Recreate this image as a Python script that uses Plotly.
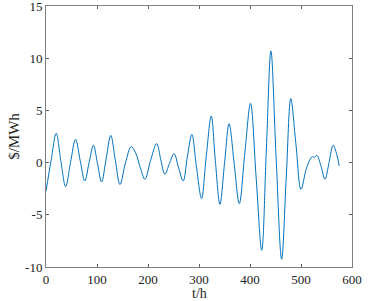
import plotly.graph_objects as go

t_h = [0, 10, 20, 29, 38.5, 48, 58, 67, 76, 84.5, 93, 101, 109, 118, 127, 136, 145, 156,
       167, 176, 185, 194, 205, 217, 225, 233, 242, 251, 260, 269, 277, 286, 295, 305,
       314, 324, 332, 341, 350, 359, 369, 379, 390, 401, 412, 423, 432, 441, 451, 462,
       471, 480, 490, 500, 511, 522, 526, 531, 539, 547, 555, 563, 570, 575]
price = [-2.75, 0.2, 2.8, 0.2, -2.3, 0.0, 2.23, 0.2, -1.76, 0.0, 1.66, -0.1, -1.86, 0.4,
         2.6, 0.2, -2.1, 0.0, 1.53, 0.9, -0.5, -1.6, 0.2, 1.82, 0.3, -1.12, -0.1, 0.86,
         -0.5, -1.76, 0.5, 2.7, -0.4, -3.45, 0.5, 4.46, 0.2, -4.0, -0.1, 3.73, -0.1, -3.93,
         1.0, 5.68, -1.4, -8.4, 1.2, 10.7, 0.7, -9.26, -1.5, 6.13, 1.8, -2.56, -0.5, 0.57,
         0.5, 0.7, -0.3, -1.6, 0.0, 1.66, 0.8, -0.33]

x_ticks = [0, 100, 200, 300, 400, 500, 600]
y_ticks = [-10, -5, 0, 5, 10, 15]

FONT = "Liberation Serif, Times New Roman, serif"

fig = go.Figure()
fig.add_trace(go.Scatter(x=t_h, y=price, mode="lines",
                         line=dict(color="#0072BD", width=1, shape="spline", smoothing=1.0)))

axis_common = dict(showgrid=False, zeroline=False, showline=True, linecolor="#808080",
                   linewidth=1, mirror="ticks", ticks="inside", ticklen=3,
                   tickcolor="#606060", automargin=False, ticklabeloverflow="allow",
                   tickfont=dict(family=FONT, size=13, color="#222"))

fig.update_layout(
    width=370, height=301,
    margin=dict(l=46, r=18, t=6, b=34),
    paper_bgcolor="white", plot_bgcolor="white",
    showlegend=False,
    font=dict(family=FONT),
    xaxis=dict(range=[0, 600], tickvals=x_ticks, ticktext=[str(v) for v in x_ticks],
               **axis_common),
    yaxis=dict(range=[-10, 15], tickvals=y_ticks, ticktext=[str(v) for v in y_ticks],
               title=dict(text="$/MWh", standoff=1,
                          font=dict(family=FONT, size=15, color="#222")), **axis_common),
    annotations=[dict(text="t/h", xref="paper", yref="paper", x=0.5, y=-0.102,
                      xanchor="center", yanchor="middle", showarrow=False, borderpad=0,
                      font=dict(family=FONT, size=14, color="#222"))],
)

fig.write_html("out.html", config={"displayModeBar": False},
               post_script="document.body.style.margin='0';document.body.style.overflow='hidden';")
